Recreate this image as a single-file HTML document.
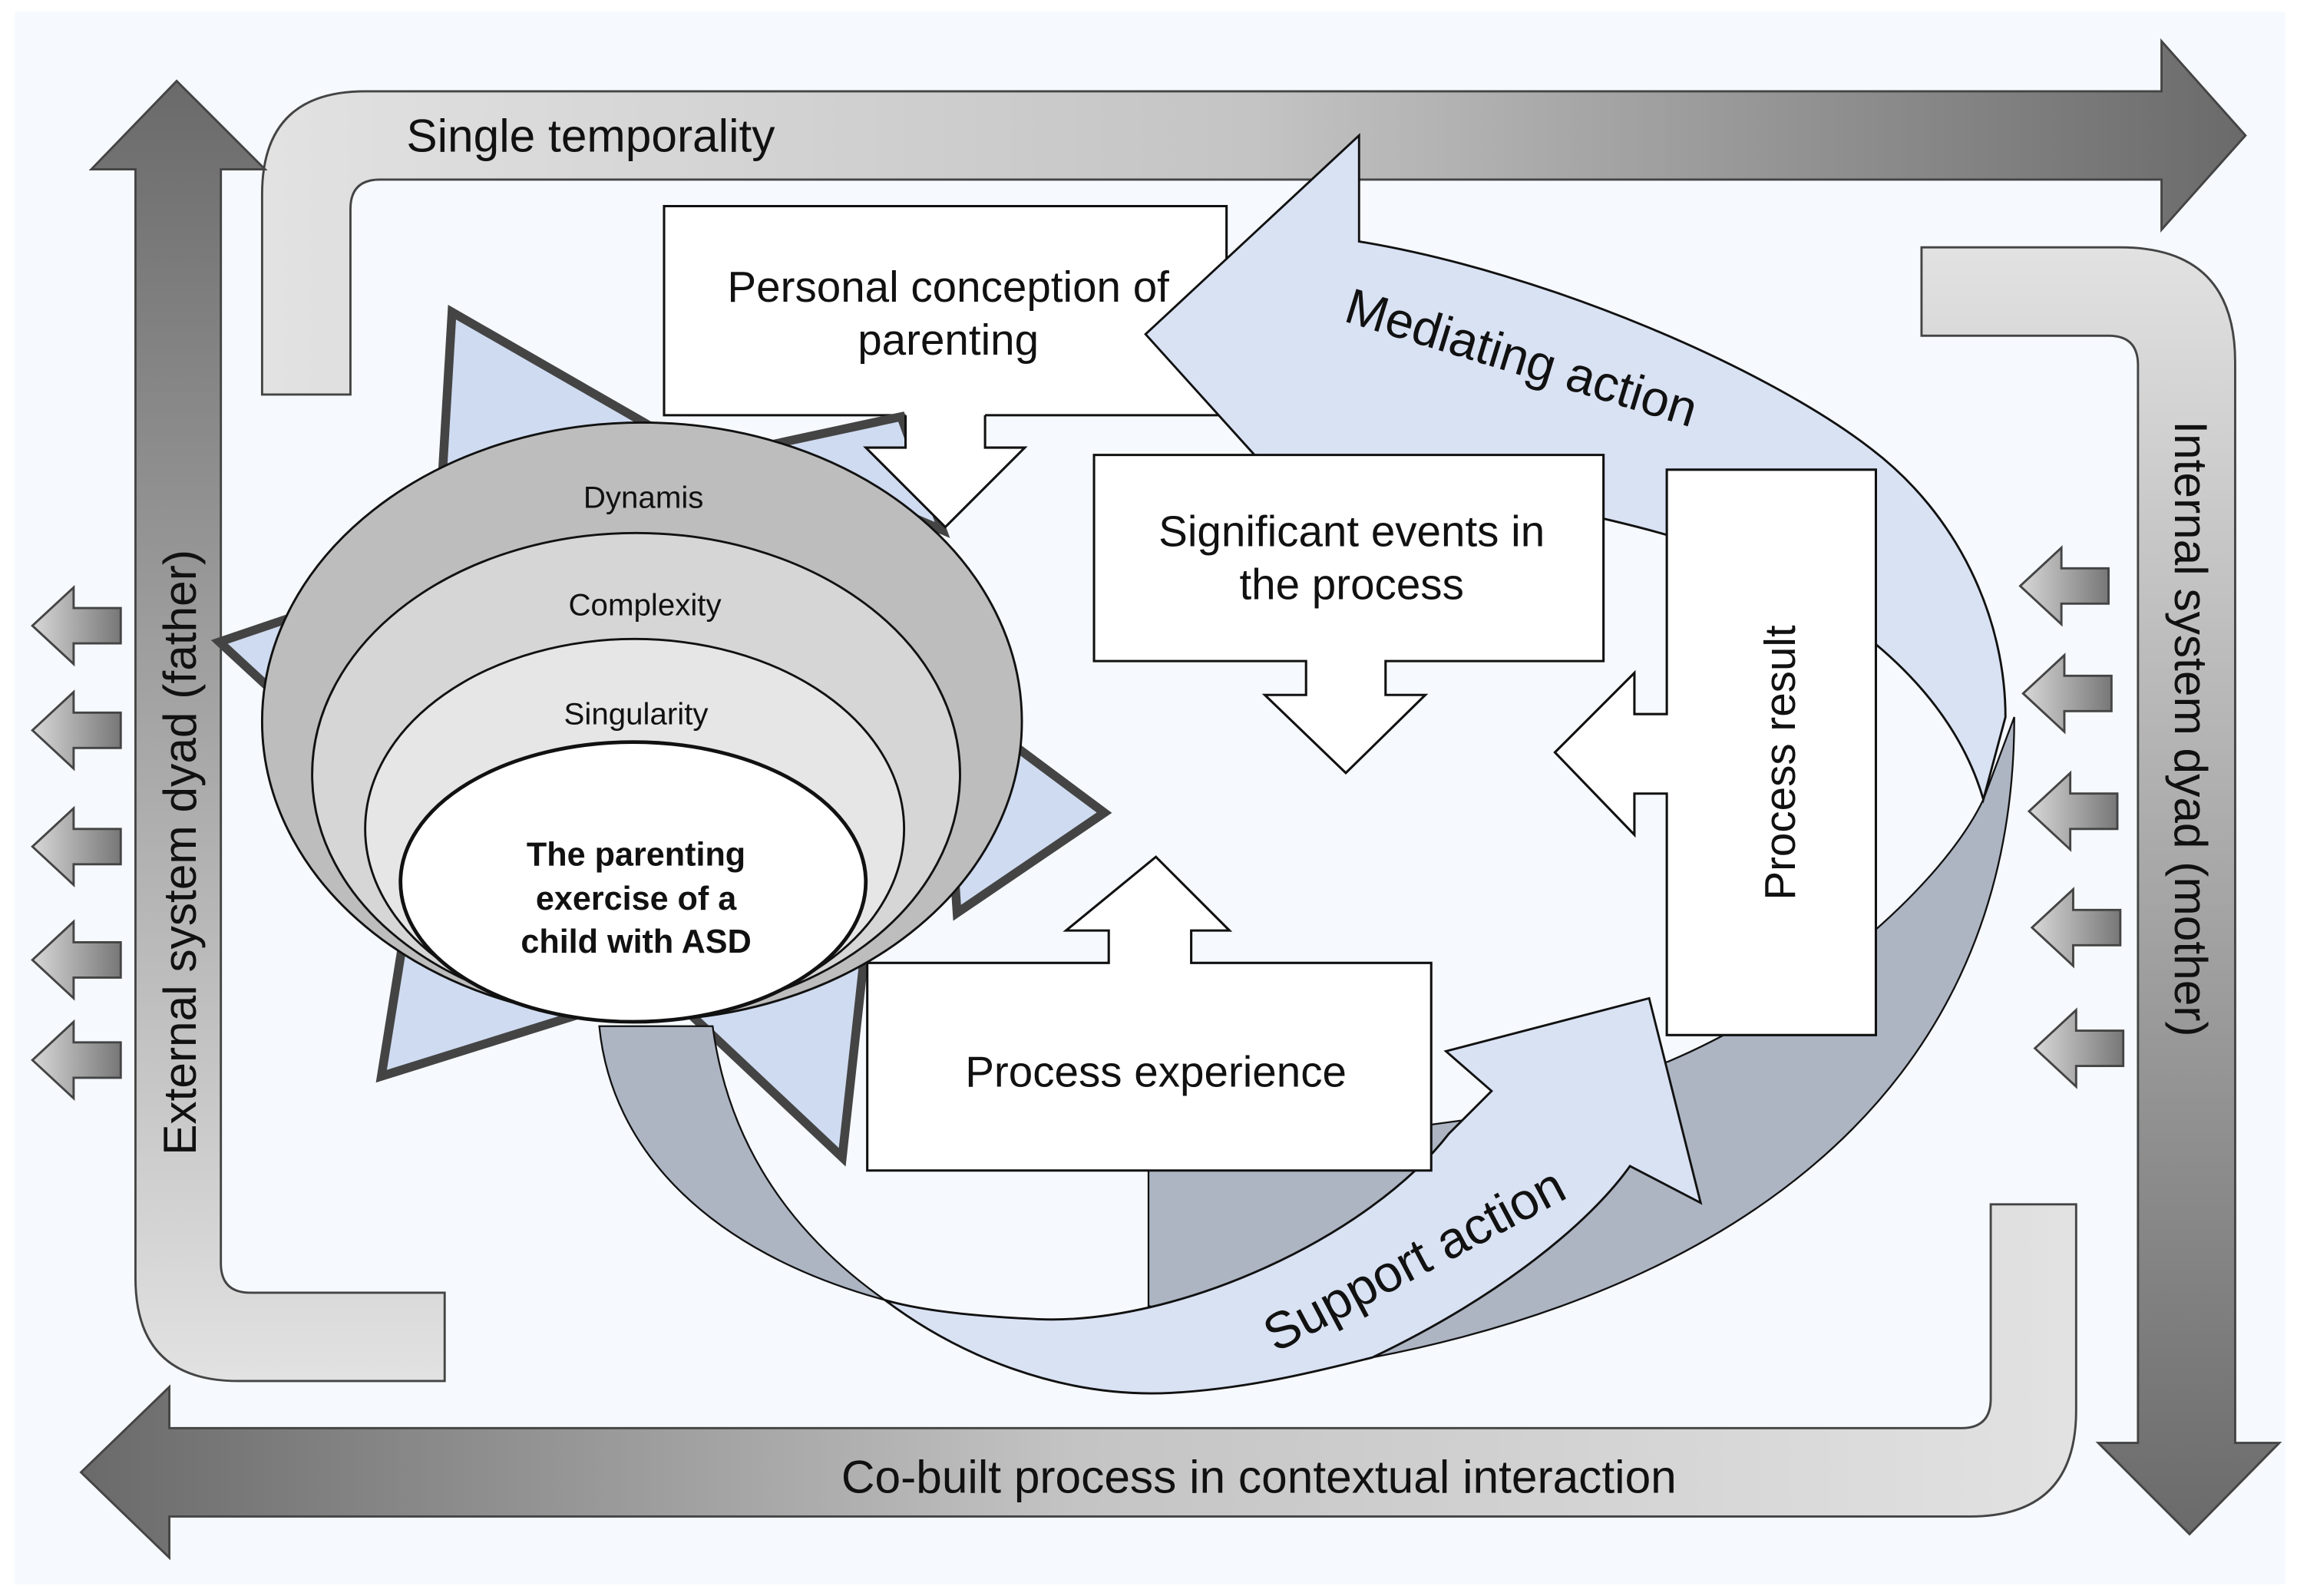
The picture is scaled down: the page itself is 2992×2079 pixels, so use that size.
<!DOCTYPE html>
<html><head><meta charset="utf-8"><style>
html,body{margin:0;padding:0;background:#fff}
svg{display:block}
text{font-family:"Liberation Sans",Arial,sans-serif;fill:#111}
</style></head><body>
<svg width="2992" height="2079" viewBox="0 0 1560 1084" preserveAspectRatio="none" xmlns="http://www.w3.org/2000/svg">
<defs>
<linearGradient id="gTop" x1="178" y1="0" x2="1525" y2="0" gradientUnits="userSpaceOnUse"><stop offset="0" stop-color="#e2e2e2"/><stop offset="0.5" stop-color="#c4c4c4"/><stop offset="1" stop-color="#6a6a6a"/></linearGradient>
<linearGradient id="gLeft" x1="0" y1="55" x2="0" y2="938" gradientUnits="userSpaceOnUse"><stop offset="0" stop-color="#6a6a6a"/><stop offset="1" stop-color="#e2e2e2"/></linearGradient>
<linearGradient id="gRight" x1="0" y1="168" x2="0" y2="1042" gradientUnits="userSpaceOnUse"><stop offset="0" stop-color="#e2e2e2"/><stop offset="1" stop-color="#6a6a6a"/></linearGradient>
<linearGradient id="gBot" x1="55" y1="0" x2="1410" y2="0" gradientUnits="userSpaceOnUse"><stop offset="0" stop-color="#6a6a6a"/><stop offset="0.5" stop-color="#c4c4c4"/><stop offset="1" stop-color="#e2e2e2"/></linearGradient>
<linearGradient id="gSmall" x1="0" y1="0" x2="1" y2="0"><stop offset="0" stop-color="#d8d8d8"/><stop offset="1" stop-color="#777"/></linearGradient>
<g id="sa"><path d="M0,0 L28,-26 V-12 H60 V12 H28 V26 Z" fill="url(#gSmall)" stroke="#444" stroke-width="1.5"/></g>
</defs>
<rect x="0" y="0" width="1560" height="1084" fill="#fff"/>
<rect x="10" y="8" width="1542" height="1068" fill="#f6f9fd"/>

<!-- frame arrows -->
<path d="M178,268 V132 Q178,62 248,62 H1468 V28 L1525,92 L1468,156 V122 H258 Q238,122 238,142 V268 Z" fill="url(#gTop)" stroke="#444" stroke-width="1.5"/>
<text x="276" y="103" font-size="31.5">Single temporality</text>
<path d="M120,55 L180,115 H150 V858 Q150,878 170,878 H302 V938 H162 Q92,938 92,868 V115 H62 Z" fill="url(#gLeft)" stroke="#444" stroke-width="1.5"/>
<text transform="translate(133,579) rotate(-90)" font-size="31.5" text-anchor="middle">External system dyad (father)</text>
<path d="M1305,168 H1440 Q1518,168 1518,246 V980 H1548 L1487,1042 L1425,980 H1452 V248 Q1452,228 1432,228 H1305 Z" fill="url(#gRight)" stroke="#444" stroke-width="1.5"/>
<text transform="translate(1477,495) rotate(90)" font-size="31.5" text-anchor="middle">Internal system dyad (mother)</text>
<path d="M1410,818 V958 Q1410,1030 1338,1030 H115 V1058 L55,1000 L115,942 V970 H1332 Q1352,970 1352,950 V818 Z" fill="url(#gBot)" stroke="#444" stroke-width="1.5"/>
<text x="855" y="1014" font-size="31.5" text-anchor="middle">Co-built process in contextual interaction</text>

<!-- small arrows -->
<use href="#sa" x="22" y="425"/><use href="#sa" x="22" y="496"/><use href="#sa" x="22" y="575"/><use href="#sa" x="22" y="652"/><use href="#sa" x="22" y="720"/>
<use href="#sa" x="1372" y="398"/><use href="#sa" x="1374" y="471"/><use href="#sa" x="1378" y="551"/><use href="#sa" x="1380" y="630"/><use href="#sa" x="1382" y="712"/>

<!-- dark ribbon back -->
<path d="M780,790 L780,887 C830,900 880,915 932,922 C1150,880 1368,760 1368,487 L1347,543 C1320,600 1230,680 1133,721 L1000,760 Z" fill="#adb5c3" stroke="#111" stroke-width="1.2"/>

<!-- personal box (below mediating arrow) -->
<path d="M451,140 H833 V282 H451 Z" fill="#fff" stroke="#111" stroke-width="1.6"/>

<!-- mediating arrow -->
<path d="M778,227 L923,92 L923,164 C1050,185 1200,250 1271,305 C1330,350 1362,420 1362,487 L1347,543 C1320,450 1220,390 1131,363 C1050,340 920,320 852,309 Z" fill="#d9e2f3" stroke="#111" stroke-width="1.5"/>
<text transform="translate(1030,254) rotate(17)" font-size="34" text-anchor="middle">Mediating action</text>

<!-- star triangles -->
<g fill="#cfdbf0" stroke="#444" stroke-width="6" stroke-linejoin="miter">
<polygon points="307,212 300,330 460,300"/>
<polygon points="510,305 612,283 640,360"/>
<polygon points="149,436 270,395 240,520"/>
<polygon points="640,470 750,552 650,620"/>
<polygon points="280,600 259,731 390,690"/>
<polygon points="470,690 572,786 588,640"/>
</g>

<!-- personal box down arrow (on top of star) -->
<path d="M615,281 V304 H588 L642,358 L696,304 H669 V281 Z" fill="#fff"/>
<path d="M615,282 V304 H588 L642,358 L696,304 H669 V282" fill="none" stroke="#111" stroke-width="1.6"/>

<!-- left twisted strip -->
<path d="M407,697 C415,780 480,850 601,883 C540,840 495,780 484,697 Z" fill="#adb5c3" stroke="#111" stroke-width="1.2"/>

<!-- ellipses -->
<ellipse cx="436" cy="490" rx="258" ry="203" fill="#bdbdbd" stroke="#111" stroke-width="1.5"/>
<ellipse cx="432" cy="526" rx="220" ry="164" fill="#d6d6d6" stroke="#111" stroke-width="1.5"/>
<ellipse cx="431" cy="563" rx="183" ry="129" fill="#e6e6e6" stroke="#111" stroke-width="1.5"/>
<ellipse cx="430" cy="599" rx="158" ry="95" fill="#fff" stroke="#111" stroke-width="2.5"/>
<text x="437" y="345" font-size="21" text-anchor="middle">Dynamis</text>
<text x="438" y="418" font-size="21" text-anchor="middle">Complexity</text>
<text x="432" y="492" font-size="21" text-anchor="middle">Singularity</text>
<g font-size="22.5" font-weight="bold" text-anchor="middle">
<text x="432" y="588">The parenting</text>
<text x="432" y="618">exercise of a</text>
<text x="432" y="647">child with ASD</text>
</g>

<!-- support arrow -->
<path d="M601,883 C650,920 720,950 796,946 C850,943 900,930 932,922 C1020,880 1080,830 1107,792 L1155,817 L1120,678 L982,714 L1013,741 L984,770 C930,840 800,900 705,896 C660,894 625,890 601,883 Z" fill="#d9e2f3" stroke="#111" stroke-width="1.5"/>
<text transform="translate(966,866) rotate(-28)" font-size="35" text-anchor="middle">Support action</text>

<!-- boxes -->
<g fill="#fff" stroke="#111" stroke-width="1.6">
<path d="M743,309 H1089 V449 H941 V472 H968 L914,525 L859,472 H887 V449 H743 Z"/>
<path d="M1132,319 H1274 V703 H1132 V539 H1110 V567 L1056,511 L1110,457 V485 H1132 Z"/>
<path d="M589,654 H753 V632 H724 L785,582 L835,632 H809 V654 H972 V795 H589 Z"/>
</g>
<g font-size="29.5" text-anchor="middle">
<text x="644" y="205">Personal conception of</text>
<text x="644" y="241">parenting</text>
<text x="918" y="371">Significant events in</text>
<text x="918" y="407">the process</text>
<text x="785" y="738">Process experience</text>
<text transform="translate(1219,518) rotate(-90)">Process result</text>
</g>
</svg>
</body></html>
